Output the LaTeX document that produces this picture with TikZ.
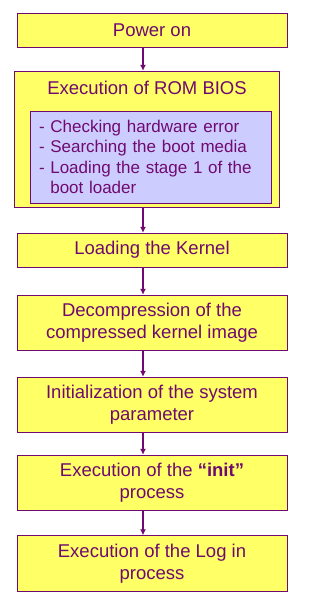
\documentclass[tikz,border=0pt]{standalone}
\usepackage{fontspec}
\setmainfont{Liberation Sans}
\usetikzlibrary{arrows.meta,positioning}
\definecolor{plum}{HTML}{700A70}
\definecolor{boxyellow}{HTML}{FFFF66}
\definecolor{lavender}{HTML}{CCCCFF}
\tikzset{>=Latex,line width=1.2pt,
  every node/.style={text=plum,font=\fontsize{18.5}{22.5}\selectfont},
  stepbox/.style={draw=plum,fill=boxyellow,minimum width=270pt,align=center,inner sep=0pt},
  detail/.style={draw=plum,fill=lavender,minimum width=241pt,minimum height=92pt,
    text width=223pt,align=left,inner sep=0pt,font=\fontsize{17}{20.5}\selectfont},
  flow/.style={->,draw=plum,line width=1.3pt,>={Latex[length=6pt,width=6pt]}}}
\begin{document}
\begin{tikzpicture}[x=1pt,y=-1pt]
\path[use as bounding box] (0,0) rectangle (308,596);
\node[stepbox,minimum height=34pt] (power) at (152,30) {Power on};
\node[stepbox,minimum width=265pt,minimum height=136pt] (rom) at (146.5,139) {};
\node (romtitle) at (147,88) {Execution of ROM BIOS};
\node[detail] (bios) at (150.5,157) {- Checking hardware error\\- Searching the boot media\\- Loading the stage 1 of the\\\phantom{- }boot loader};
\node[stepbox,minimum height=34pt] (kernel) at (152,250) {Loading the Kernel};
\node[stepbox,minimum height=55pt] (decomp) at (152,322.5) {Decompression of the\\compressed kernel image};
\node[stepbox,minimum height=55pt] (param) at (152,404.5) {Initialization of the system\\parameter};
\node[stepbox,minimum height=55pt] (init) at (152,482.5) {Execution of the \textbf{“init”}\\process};
\node[stepbox,minimum height=56pt] (login) at (152,563.5) {Execution of the Log in\\process};
\coordinate (ax) at (143,0);
\draw[flow] (power.south -| ax) -- (rom.north -| ax);
\draw[flow] (rom.south -| ax) -- (kernel.north -| ax);
\draw[flow] (kernel.south -| ax) -- (decomp.north -| ax);
\draw[flow] (decomp.south -| ax) -- (param.north -| ax);
\draw[flow] (param.south -| ax) -- (init.north -| ax);
\draw[flow] (init.south -| ax) -- (login.north -| ax);
\end{tikzpicture}
\end{document}
